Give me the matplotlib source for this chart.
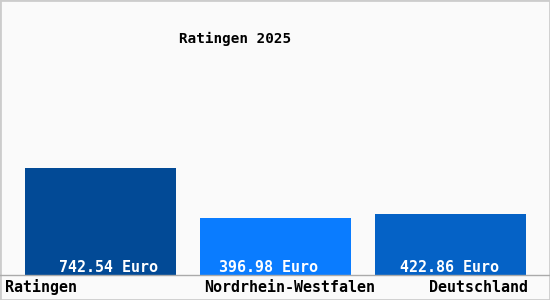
import matplotlib.pyplot as plt
from matplotlib.patches import Rectangle

# data
regionen = ['Ratingen', 'Nordrhein-Westfalen', 'Deutschland']
werte = [742.54, 396.98, 422.86]
beschriftung = ['742.54 Euro', '396.98 Euro', '422.86 Euro']
farben = ['#024a96', '#0a7cff', '#0562c6']

W, H = 550, 300
fig = plt.figure(figsize=(W/100, H/100), dpi=100, facecolor='#fafafa')
plt.rcParams['font.family'] = 'DejaVu Sans Mono'

# axes: bottom at pixel y=275, pixel scale 175 px per category
base = 275
ax = fig.add_axes([0, (H-base)/H, 1, base/H])
ax.set_facecolor('#fafafa')
x0 = -100.5/175
ax.set_xlim(x0, x0 + W/175)
ax.set_ylim(0, base/0.1441)
ax.axis('off')

pos = range(len(werte))
ax.bar(pos, werte, width=151/175, color=farben)
versatz = [8, -7, -1]  # px, Lage der Wertebeschriftung
for i, (v, t) in enumerate(zip(werte, beschriftung)):
	ax.text(i + versatz[i]/175, 18, t, color='w', fontsize=10.8, ha='center',
		va='baseline', fontweight='bold')

# x-axis line and labels
fig.add_artist(plt.Line2D([0, 1], [(H-base)/H]*2, color='#aaaaaa', lw=1))
lab_x = [(5, 'left'), (290, 'center'), (528, 'right')]
for name, (px, ha) in zip(regionen, lab_x):
	fig.text(px/W, (H-292)/H, name, fontsize=10.8, ha=ha, va='baseline', fontweight='bold')

fig.text(235/W, (H-43)/H, 'Ratingen 2025', fontsize=10.3, ha='center', va='baseline',
	fontweight='bold')

# frame
fig.add_artist(Rectangle((0, 0), 1, 1, transform=fig.transFigure, fill=False,
	edgecolor='#cccccc', lw=2))

plt.savefig('out.png', dpi=100, facecolor=fig.get_facecolor())
